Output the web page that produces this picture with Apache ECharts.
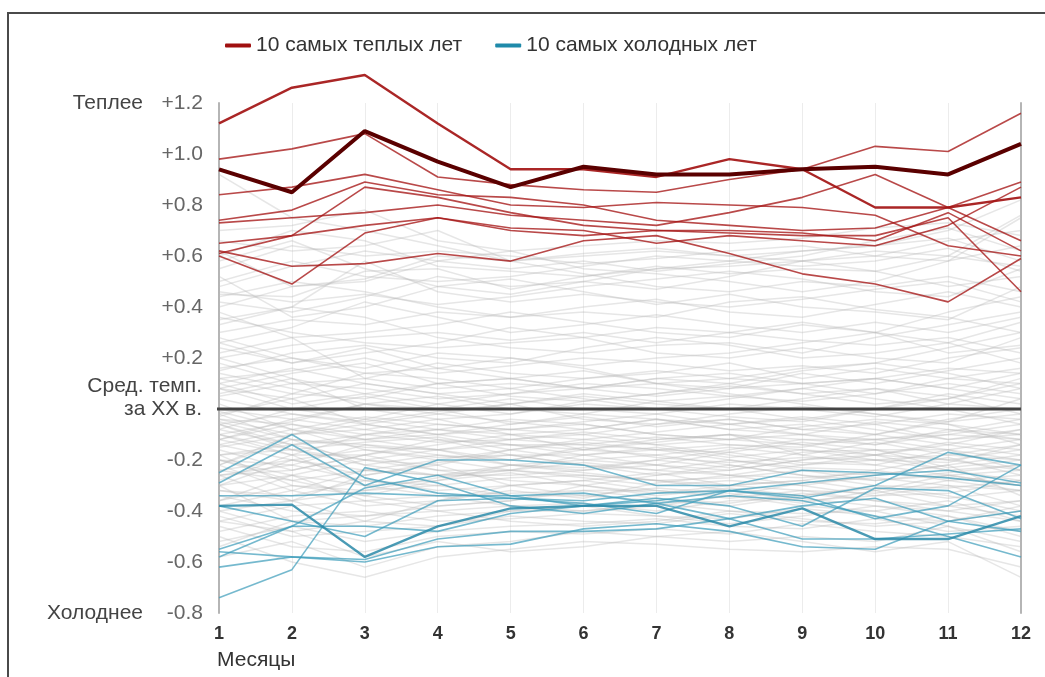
<!DOCTYPE html>
<html>
<head>
<meta charset="utf-8">
<script src="https://cdn.jsdelivr.net/npm/echarts@6/dist/echarts.min.js"></script>
<style>
  html, body { margin: 0; padding: 0; background: #fff; }
  #chart { width: 1045px; height: 677px; }
  #frame {
    position: absolute; left: 7px; top: 12px; width: 1100px; height: 700px;
    border-top: 2px solid #4a4a4a; border-left: 2px solid #4a4a4a;
    pointer-events: none;
  }
</style>
</head>
<body>
<div id="chart"></div>
<div id="frame"></div>
<script>
// Monthly global temperature anomalies (°C) relative to the 20th-century mean
const months = [1, 2, 3, 4, 5, 6, 7, 8, 9, 10, 11, 12];
const yTicks = [-0.8, -0.6, -0.4, -0.2, 0, 0.2, 0.4, 0.6, 0.8, 1.0, 1.2];

const legendWarm = '10 самых теплых лет';
const legendCold = '10 самых холодных лет';

// Record year (heavy line)
const recordYear = [0.94, 0.85, 1.09, 0.97, 0.87, 0.95, 0.92, 0.92, 0.94, 0.95, 0.92, 1.04];
// Hottest-peak year (bold red)
const peakYear = [1.12, 1.26, 1.31, 1.12, 0.94, 0.94, 0.91, 0.98, 0.94, 0.79, 0.79, 0.83];
// Remaining warmest years
const warmYears = [
  [0.98, 1.02, 1.08, 0.91, 0.88, 0.86, 0.85, 0.90, 0.94, 1.03, 1.01, 1.16],
  [0.84, 0.87, 0.92, 0.86, 0.80, 0.79, 0.81, 0.80, 0.79, 0.76, 0.64, 0.60],
  [0.74, 0.78, 0.89, 0.84, 0.83, 0.80, 0.74, 0.72, 0.70, 0.71, 0.79, 0.89],
  [0.73, 0.75, 0.77, 0.80, 0.76, 0.74, 0.72, 0.77, 0.83, 0.92, 0.79, 0.66],
  [0.65, 0.68, 0.72, 0.75, 0.70, 0.68, 0.70, 0.69, 0.68, 0.68, 0.75, 0.46],
  [0.62, 0.56, 0.57, 0.61, 0.58, 0.66, 0.68, 0.61, 0.53, 0.49, 0.42, 0.59],
  [0.60, 0.49, 0.69, 0.75, 0.71, 0.70, 0.65, 0.68, 0.66, 0.64, 0.72, 0.87],
  [0.61, 0.68, 0.87, 0.83, 0.77, 0.72, 0.70, 0.70, 0.69, 0.66, 0.77, 0.62]
];

// Coldest year (bold blue)
const coldestYear = [-0.38, -0.375, -0.58, -0.46, -0.39, -0.38, -0.38, -0.46, -0.39, -0.51, -0.51, -0.42];
// Remaining coldest years
const coldYears = [
  [-0.25, -0.10, -0.27, -0.33, -0.35, -0.36, -0.33, -0.32, -0.35, -0.30, -0.17, -0.22],
  [-0.29, -0.14, -0.30, -0.20, -0.20, -0.22, -0.30, -0.30, -0.24, -0.25, -0.27, -0.30],
  [-0.34, -0.34, -0.33, -0.34, -0.34, -0.33, -0.37, -0.43, -0.38, -0.35, -0.44, -0.48],
  [-0.38, -0.44, -0.50, -0.36, -0.35, -0.37, -0.41, -0.32, -0.34, -0.43, -0.38, -0.22],
  [-0.56, -0.58, -0.59, -0.51, -0.48, -0.48, -0.47, -0.43, -0.51, -0.51, -0.49, -0.47],
  [-0.58, -0.46, -0.31, -0.26, -0.34, -0.38, -0.35, -0.38, -0.46, -0.31, -0.32, -0.43],
  [-0.62, -0.58, -0.60, -0.54, -0.53, -0.47, -0.45, -0.48, -0.54, -0.55, -0.44, -0.40],
  [-0.74, -0.63, -0.23, -0.29, -0.38, -0.41, -0.37, -0.34, -0.36, -0.42, -0.50, -0.58],
  [-0.55, -0.46, -0.46, -0.48, -0.41, -0.38, -0.36, -0.32, -0.29, -0.26, -0.24, -0.29]
];

// All other years since 1880
const otherYears = [
  [0.92, 0.75, 0.70, 0.64, 0.58, 0.60, 0.62, 0.60, 0.58, 0.60, 0.66, 0.70],
  [0.70, 0.72, 0.78, 0.66, 0.62, 0.64, 0.66, 0.65, 0.67, 0.71, 0.73, 0.68],
  [0.66, 0.62, 0.64, 0.70, 0.58, 0.61, 0.63, 0.60, 0.62, 0.64, 0.67, 0.58],
  [0.55, 0.64, 0.60, 0.62, 0.60, 0.57, 0.59, 0.62, 0.64, 0.60, 0.58, 0.75],
  [0.48, 0.56, 0.62, 0.58, 0.55, 0.58, 0.54, 0.57, 0.60, 0.66, 0.71, 0.62],
  [0.45, 0.44, 0.54, 0.55, 0.47, 0.52, 0.56, 0.53, 0.55, 0.54, 0.48, 0.52],
  [0.62, 0.48, 0.50, 0.58, 0.62, 0.55, 0.53, 0.50, 0.46, 0.50, 0.58, 0.64],
  [0.58, 0.66, 0.55, 0.48, 0.45, 0.50, 0.55, 0.56, 0.58, 0.54, 0.60, 0.56],
  [0.40, 0.48, 0.51, 0.60, 0.58, 0.53, 0.48, 0.46, 0.50, 0.48, 0.52, 0.46],
  [0.46, 0.42, 0.45, 0.41, 0.44, 0.48, 0.51, 0.54, 0.51, 0.46, 0.44, 0.55],
  [0.35, 0.40, 0.58, 0.46, 0.42, 0.45, 0.42, 0.40, 0.43, 0.47, 0.50, 0.42],
  [0.52, 0.36, 0.40, 0.48, 0.51, 0.46, 0.41, 0.45, 0.40, 0.38, 0.35, 0.48],
  [0.30, 0.35, 0.33, 0.38, 0.36, 0.40, 0.43, 0.38, 0.36, 0.41, 0.46, 0.40],
  [0.44, 0.50, 0.46, 0.40, 0.36, 0.38, 0.36, 0.42, 0.44, 0.39, 0.36, 0.30],
  [0.26, 0.32, 0.42, 0.36, 0.30, 0.33, 0.37, 0.33, 0.30, 0.34, 0.30, 0.36],
  [0.38, 0.28, 0.30, 0.33, 0.38, 0.34, 0.30, 0.28, 0.33, 0.30, 0.38, 0.44],
  [0.20, 0.25, 0.28, 0.30, 0.27, 0.30, 0.26, 0.30, 0.27, 0.25, 0.28, 0.22],
  [0.33, 0.40, 0.36, 0.28, 0.24, 0.22, 0.25, 0.26, 0.22, 0.28, 0.33, 0.38],
  [0.24, 0.18, 0.22, 0.26, 0.32, 0.28, 0.22, 0.20, 0.24, 0.20, 0.18, 0.28],
  [0.15, 0.22, 0.25, 0.20, 0.18, 0.24, 0.28, 0.25, 0.20, 0.22, 0.26, 0.18],
  [0.28, 0.20, 0.16, 0.22, 0.20, 0.17, 0.20, 0.22, 0.26, 0.30, 0.22, 0.25],
  [0.12, 0.15, 0.20, 0.14, 0.17, 0.20, 0.18, 0.15, 0.17, 0.14, 0.20, 0.24],
  [0.18, 0.10, 0.12, 0.18, 0.14, 0.12, 0.14, 0.18, 0.12, 0.16, 0.12, 0.10],
  [0.08, 0.14, 0.18, 0.10, 0.12, 0.15, 0.10, 0.08, 0.14, 0.10, 0.15, 0.20],
  [0.22, 0.28, 0.12, 0.08, 0.10, 0.08, 0.12, 0.14, 0.10, 0.12, 0.08, 0.14],
  [0.50, 0.58, 0.52, 0.50, 0.52, 0.56, 0.60, 0.58, 0.62, 0.64, 0.70, 0.82],
  [0.42, 0.38, 0.44, 0.52, 0.48, 0.50, 0.47, 0.52, 0.58, 0.62, 0.60, 0.76],
  [0.60, 0.70, 0.66, 0.56, 0.54, 0.52, 0.55, 0.58, 0.56, 0.58, 0.63, 0.54],
  [0.05, 0.10, 0.08, 0.04, 0.06, 0.10, 0.08, 0.05, 0.03, 0.06, 0.10, 0.06],
  [0.10, 0.02, 0.06, 0.10, 0.05, 0.03, 0.06, 0.09, 0.06, 0.02, 0.04, 0.12],
  [-0.02, 0.04, 0.10, 0.06, 0.02, 0.05, 0.02, 0.00, 0.04, 0.08, 0.05, -0.02],
  [0.14, 0.08, 0.02, 0.00, 0.04, 0.00, -0.02, 0.02, 0.00, -0.03, 0.02, 0.08],
  [0.00, -0.04, 0.02, 0.05, 0.00, -0.02, 0.03, 0.05, 0.08, 0.04, 0.00, -0.06],
  [0.06, 0.12, 0.00, -0.04, -0.02, 0.02, 0.00, -0.03, -0.05, 0.00, 0.06, 0.02],
  [-0.06, -0.02, -0.05, -0.01, 0.02, -0.04, -0.06, -0.02, 0.01, -0.02, -0.05, 0.04],
  [0.02, -0.08, -0.03, -0.06, -0.08, -0.05, -0.02, -0.06, -0.03, -0.06, -0.02, -0.04],
  [-0.10, -0.05, 0.02, -0.02, -0.05, -0.08, -0.04, -0.08, -0.10, -0.05, -0.08, -0.12],
  [0.08, 0.04, -0.06, -0.10, -0.06, -0.03, -0.07, -0.04, -0.08, -0.10, -0.04, 0.00],
  [-0.04, -0.10, -0.08, -0.04, -0.10, -0.12, -0.09, -0.06, -0.04, -0.08, -0.12, -0.08],
  [-0.12, -0.06, -0.12, -0.08, -0.04, -0.06, -0.10, -0.12, -0.07, -0.04, -0.06, -0.14],
  [-0.08, -0.14, -0.10, -0.13, -0.12, -0.09, -0.12, -0.10, -0.12, -0.12, -0.10, -0.06],
  [-0.15, -0.10, -0.06, -0.10, -0.14, -0.14, -0.11, -0.14, -0.15, -0.10, -0.14, -0.18],
  [-0.02, -0.12, -0.15, -0.16, -0.12, -0.10, -0.14, -0.12, -0.10, -0.14, -0.08, -0.10],
  [-0.18, -0.16, -0.13, -0.11, -0.16, -0.13, -0.16, -0.17, -0.13, -0.16, -0.16, -0.12],
  [-0.10, -0.18, -0.18, -0.14, -0.10, -0.16, -0.18, -0.15, -0.18, -0.13, -0.18, -0.20],
  [-0.14, -0.08, -0.16, -0.19, -0.18, -0.18, -0.15, -0.19, -0.16, -0.18, -0.13, -0.16],
  [-0.20, -0.22, -0.14, -0.16, -0.20, -0.15, -0.19, -0.21, -0.19, -0.20, -0.21, -0.14],
  [-0.06, -0.16, -0.20, -0.22, -0.16, -0.20, -0.22, -0.17, -0.21, -0.22, -0.16, -0.24],
  [-0.22, -0.12, -0.22, -0.18, -0.22, -0.23, -0.20, -0.23, -0.17, -0.16, -0.23, -0.20],
  [-0.16, -0.24, -0.18, -0.24, -0.24, -0.21, -0.24, -0.20, -0.23, -0.24, -0.19, -0.26],
  [0.16, 0.20, 0.14, 0.12, 0.08, 0.12, 0.15, 0.12, 0.10, 0.12, 0.16, 0.14],
  [0.12, 0.06, 0.14, 0.16, 0.12, 0.08, 0.12, 0.10, 0.15, 0.18, 0.14, 0.08],
  [-0.03, 0.06, 0.04, 0.10, 0.12, 0.08, 0.05, 0.08, 0.10, 0.06, 0.12, 0.16],
  [0.20, 0.12, 0.06, 0.02, -0.02, 0.03, 0.06, 0.10, 0.06, 0.08, 0.02, 0.00],
  [0.04, -0.02, -0.06, -0.02, 0.02, 0.06, 0.03, 0.00, -0.04, 0.00, 0.04, 0.10],
  [-0.08, 0.00, 0.05, 0.00, -0.06, -0.02, -0.04, -0.08, -0.06, -0.10, -0.05, -0.02],
  [-0.12, -0.18, -0.10, -0.06, -0.08, -0.10, -0.06, -0.04, -0.08, -0.06, -0.12, -0.10],
  [-0.05, -0.12, -0.14, -0.18, -0.20, -0.16, -0.12, -0.10, -0.14, -0.18, -0.20, -0.16],
  [-0.24, -0.20, -0.26, -0.21, -0.18, -0.22, -0.26, -0.24, -0.20, -0.18, -0.24, -0.22],
  [-0.20, -0.28, -0.24, -0.26, -0.26, -0.24, -0.22, -0.26, -0.27, -0.25, -0.27, -0.30],
  [-0.26, -0.22, -0.28, -0.30, -0.27, -0.26, -0.28, -0.27, -0.24, -0.28, -0.26, -0.24],
  [-0.30, -0.26, -0.20, -0.24, -0.28, -0.30, -0.26, -0.22, -0.26, -0.30, -0.31, -0.28],
  [-0.18, -0.30, -0.32, -0.27, -0.24, -0.27, -0.30, -0.28, -0.30, -0.26, -0.22, -0.34],
  [-0.32, -0.34, -0.28, -0.32, -0.30, -0.28, -0.25, -0.30, -0.32, -0.33, -0.28, -0.26],
  [-0.28, -0.18, -0.30, -0.34, -0.33, -0.32, -0.32, -0.34, -0.29, -0.27, -0.30, -0.38],
  [-0.36, -0.30, -0.34, -0.28, -0.25, -0.30, -0.34, -0.31, -0.34, -0.31, -0.35, -0.32],
  [-0.22, -0.32, -0.38, -0.36, -0.32, -0.35, -0.29, -0.26, -0.30, -0.34, -0.33, -0.28],
  [-0.40, -0.36, -0.32, -0.30, -0.34, -0.34, -0.31, -0.33, -0.37, -0.32, -0.26, -0.30],
  [-0.34, -0.40, -0.42, -0.38, -0.36, -0.32, -0.35, -0.37, -0.33, -0.36, -0.38, -0.42],
  [-0.44, -0.38, -0.36, -0.40, -0.38, -0.37, -0.40, -0.36, -0.35, -0.38, -0.40, -0.36],
  [-0.30, -0.44, -0.46, -0.42, -0.40, -0.40, -0.37, -0.40, -0.41, -0.40, -0.36, -0.44],
  [-0.48, -0.42, -0.40, -0.44, -0.43, -0.41, -0.42, -0.43, -0.39, -0.42, -0.44, -0.40],
  [-0.42, -0.50, -0.48, -0.46, -0.42, -0.44, -0.45, -0.41, -0.44, -0.45, -0.42, -0.50],
  [-0.52, -0.46, -0.52, -0.48, -0.46, -0.45, -0.43, -0.46, -0.47, -0.43, -0.48, -0.46],
  [-0.46, -0.54, -0.56, -0.50, -0.48, -0.49, -0.47, -0.49, -0.45, -0.48, -0.50, -0.54],
  [-0.58, -0.52, -0.62, -0.54, -0.52, -0.48, -0.50, -0.52, -0.50, -0.52, -0.46, -0.56],
  [-0.50, -0.60, -0.66, -0.58, -0.55, -0.52, -0.53, -0.55, -0.56, -0.54, -0.55, -0.62],
  [-0.40, -0.48, -0.58, -0.52, -0.56, -0.54, -0.50, -0.48, -0.52, -0.56, -0.52, -0.66],
  [-0.26, -0.36, -0.44, -0.46, -0.40, -0.38, -0.42, -0.45, -0.42, -0.38, -0.42, -0.48],
  [-0.36, -0.26, -0.36, -0.34, -0.38, -0.40, -0.38, -0.34, -0.38, -0.40, -0.46, -0.52],
  [-0.32, -0.36, -0.26, -0.22, -0.30, -0.34, -0.36, -0.38, -0.34, -0.30, -0.34, -0.40],
  [-0.24, -0.28, -0.34, -0.38, -0.36, -0.30, -0.33, -0.30, -0.28, -0.32, -0.38, -0.36],
  [-0.38, -0.32, -0.24, -0.26, -0.22, -0.25, -0.28, -0.32, -0.36, -0.34, -0.30, -0.32],
  [-0.44, -0.48, -0.44, -0.36, -0.30, -0.28, -0.32, -0.35, -0.32, -0.36, -0.40, -0.44],
  [-0.54, -0.44, -0.42, -0.40, -0.44, -0.46, -0.44, -0.40, -0.43, -0.46, -0.44, -0.38],
  [-0.04, -0.06, -0.10, -0.08, -0.12, -0.14, -0.16, -0.14, -0.16, -0.20, -0.18, -0.14],
  [-0.14, -0.20, -0.24, -0.20, -0.16, -0.12, -0.14, -0.18, -0.22, -0.20, -0.24, -0.28],
  [-0.18, -0.14, -0.12, -0.16, -0.22, -0.24, -0.20, -0.16, -0.12, -0.14, -0.10, -0.12],
  [-0.10, -0.16, -0.22, -0.26, -0.24, -0.18, -0.16, -0.20, -0.24, -0.26, -0.22, -0.18],
  [-0.26, -0.24, -0.18, -0.12, -0.14, -0.18, -0.22, -0.24, -0.20, -0.16, -0.20, -0.24],
  [-0.01, -0.08, -0.12, -0.10, -0.08, -0.06, -0.10, -0.12, -0.14, -0.12, -0.16, -0.20],
  [-0.20, -0.26, -0.30, -0.28, -0.22, -0.20, -0.18, -0.22, -0.26, -0.28, -0.25, -0.22],
  [-0.12, -0.04, -0.08, -0.12, -0.18, -0.22, -0.24, -0.26, -0.22, -0.18, -0.14, -0.08],
  [-0.30, -0.20, -0.16, -0.20, -0.24, -0.26, -0.28, -0.30, -0.28, -0.24, -0.28, -0.32],
  [-0.06, -0.14, -0.20, -0.16, -0.14, -0.16, -0.13, -0.10, -0.18, -0.22, -0.26, -0.30],
  [0.10, 0.16, 0.10, 0.06, 0.08, 0.04, 0.00, 0.04, 0.08, 0.12, 0.08, 0.04],
  [0.26, 0.18, 0.24, 0.16, 0.20, 0.16, 0.10, 0.12, 0.16, 0.18, 0.24, 0.30],
  [0.36, 0.30, 0.26, 0.24, 0.26, 0.28, 0.32, 0.30, 0.34, 0.30, 0.26, 0.34],
  [0.08, 0.00, -0.04, 0.02, 0.06, 0.08, 0.10, 0.06, 0.02, -0.02, -0.06, -0.10],
  [-0.22, -0.10, -0.04, -0.08, -0.10, -0.08, -0.04, -0.06, -0.10, -0.12, -0.09, -0.04]
];

const FONT = '"Liberation Sans", Arial, sans-serif';
const RED = '#a51616';
const BLUE = '#3a9bb9';

function pairs(values) {
  return values.map((v, i) => [months[i], v]);
}
function lineSeries(name, values, color, width, opacity, z) {
  return {
    type: 'line', name: name, data: pairs(values),
    symbol: 'none', silent: true, z: z, clip: false,
    lineStyle: { color: color, width: width, opacity: opacity },
    itemStyle: { color: color }
  };
}

const series = [];
otherYears.forEach((v, i) => series.push(lineSeries('year' + i, v, '#b8b8b8', 1.5, 0.35, 2)));
// 20th-century mean reference line, slightly extended left of the axis
series.push({
  type: 'line', name: 'mean', data: [[0.85, 0], [12, 0]], clip: false,
  symbol: 'none', silent: true, z: 3,
  lineStyle: { color: '#444', width: 3 }
});
coldYears.forEach(v => series.push(lineSeries(legendCold, v, BLUE, 1.6, 0.7, 4)));
series.push(lineSeries(legendCold, coldestYear, '#2a8aa8', 2.4, 0.85, 4));
warmYears.forEach(v => series.push(lineSeries(legendWarm, v, RED, 1.6, 0.78, 5)));
series.push(lineSeries(legendWarm, peakYear, '#a31414', 2.4, 0.92, 5));
series.push(lineSeries(legendWarm, recordYear, '#5a0000', 4, 1, 6));

const chart = echarts.init(document.getElementById('chart'), null, { renderer: 'canvas' });

const option = {
  animation: false,
  backgroundColor: '#fff',
  textStyle: { fontFamily: FONT },
  grid: { left: 219, right: 24, top: 103, bottom: 64 },
  legend: {
    left: 220, top: 30, itemGap: 33,
    itemWidth: 26, itemHeight: 4, icon: 'roundRect',
    textStyle: { fontFamily: FONT, fontSize: 21, color: '#333' },
    data: [
      { name: legendWarm, itemStyle: { color: '#a01010' } },
      { name: legendCold, itemStyle: { color: '#1f8aaa' } }
    ],
    selectedMode: false
  },
  xAxis: {
    type: 'value', min: 1, max: 12, interval: 1,
    axisLine: { show: false }, axisTick: { show: false },
    splitLine: { show: true, lineStyle: { color: '#ececec', width: 1 } },
    axisLabel: { margin: 12, fontFamily: FONT, fontSize: 18, fontWeight: 'bold', color: '#333' }
  },
  yAxis: [
    {
      type: 'value', min: -0.8, max: 1.2, interval: 0.2,
      axisLine: { show: true, lineStyle: { color: '#b5b5b5', width: 2 } },
      axisTick: { show: false }, splitLine: { show: false },
      axisLabel: {
        margin: 16, fontFamily: FONT, fontSize: 21, color: '#666',
        formatter: v => {
          if (Math.abs(v) < 1e-9) return '';
          return (v > 0 ? '+' : '') + v.toFixed(1);
        }
      }
    },
    {
      type: 'value', min: -0.8, max: 1.2, interval: 0.2, position: 'right',
      axisLine: { show: true, lineStyle: { color: '#b5b5b5', width: 2 } },
      axisTick: { show: false }, splitLine: { show: false }, axisLabel: { show: false }
    }
  ],
  series: series
};
chart.setOption(option);

// Side captions placed on the y scale
const yTop = chart.convertToPixel({ yAxisIndex: 0 }, yTicks[yTicks.length - 1]);
const yBottom = chart.convertToPixel({ yAxisIndex: 0 }, yTicks[0]);
const yZero = chart.convertToPixel({ yAxisIndex: 0 }, 0);
const xFirst = chart.convertToPixel({ xAxisIndex: 0 }, months[0]);
const capStyle = { fontFamily: FONT, fontSize: 21, fill: '#444', align: 'right', verticalAlign: 'middle' };
chart.setOption({
  graphic: [
    { type: 'text', x: 143, y: yTop, style: Object.assign({ text: 'Теплее' }, capStyle) },
    { type: 'text', x: 143, y: yBottom, style: Object.assign({ text: 'Холоднее' }, capStyle) },
    { type: 'text', x: 202, y: yZero - 11,
      style: Object.assign({ text: 'Сред. темп.\nза XX в.', lineHeight: 23 }, capStyle) },
    { type: 'text', x: xFirst - 2, y: yBottom + 47,
      style: { text: 'Месяцы', fontFamily: FONT, fontSize: 21, fill: '#333', align: 'left', verticalAlign: 'middle' } }
  ]
});
</script>
</body>
</html>
